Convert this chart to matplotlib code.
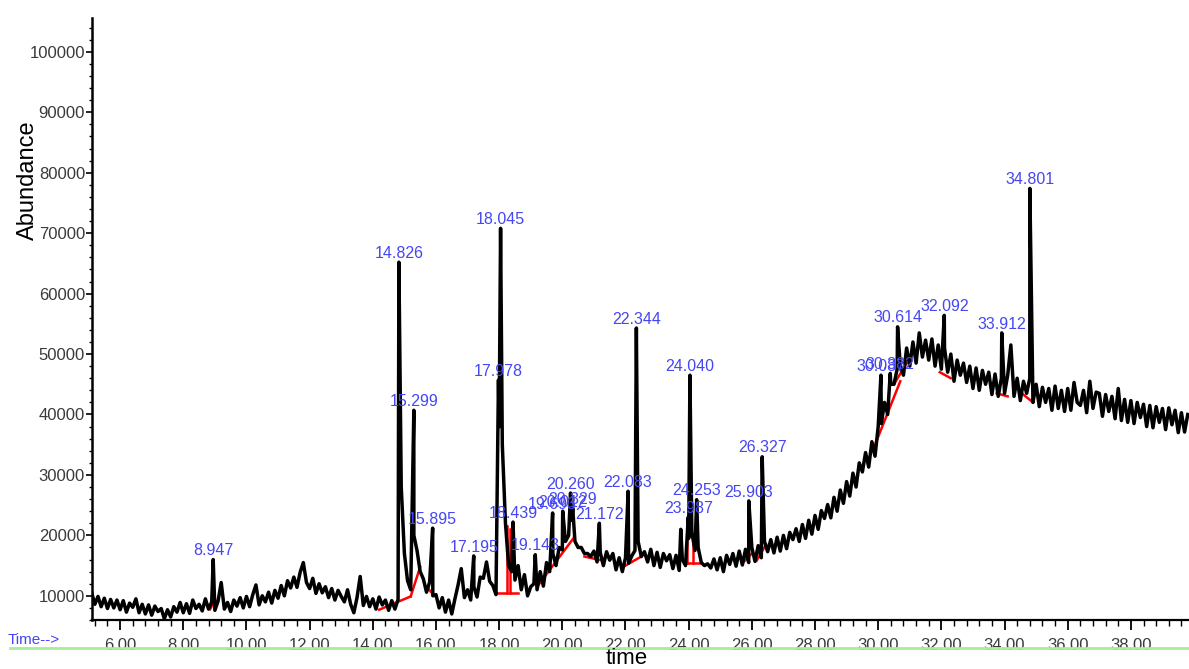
#!/usr/bin/env python3

import numpy as np
import matplotlib
matplotlib.use('Agg')
import matplotlib.pyplot as plt
from matplotlib.ticker import MultipleLocator, FormatStrFormatter
from matplotlib.lines import Line2D

plt.rcParams['font.family'] = ['Liberation Sans', 'DejaVu Sans']

# total ion chromatogram, one reading every 0.1 min from 5.1 min
trace_start = 5.1
trace_step = 0.1
trace_rows = [
    [10500, 8600, 9900, 8200, 9600, 7900, 9400, 8000, 9300],                   # 5.1-5.9
    [7700, 9200, 7300, 8800, 8100, 9500, 7200, 8600, 7000, 8500],              # 6
    [6800, 8300, 7400, 7900, 6200, 7700, 6500, 8200, 7300, 8900],              # 7
    [7200, 8700, 7100, 9300, 7900, 8600, 7500, 9500, 7800, 9000],              # 8
    [7600, 9100, 12200, 7800, 8900, 7400, 9300, 8300, 9700, 8000],             # 9
    [9900, 8200, 10200, 11800, 8500, 10000, 9000, 10600, 8800, 10900],         # 10
    [9600, 11700, 10000, 12500, 11300, 13100, 11400, 13900, 15500, 12200],     # 11
    [11200, 12900, 10400, 12000, 10500, 11500, 9700, 11200, 9300, 10900],      # 12
    [9900, 9000, 11000, 8600, 7200, 9700, 13200, 8400, 9900, 8200],            # 13
    [9500, 7800, 9800, 8500, 9300, 7600, 9200, 7800, 9400, 28000],             # 14
    [17000, 12500, 11000, 20000, 17500, 14000, 12800, 10600, 12300, 10000],    # 15
    [10200, 8000, 9700, 7300, 9300, 7000, 9500, 11800, 14500, 9700],           # 16
    [11000, 9300, 11500, 9800, 13100, 12900, 15600, 12400, 11700, 10200],      # 17
    [38000, 35000, 22000, 15000, 14000, 12600, 15000, 11000, 13500, 10000],    # 18
    [11500, 12000, 11000, 14000, 11600, 15500, 14000, 17000, 15000, 18000],    # 19
    [17600, 19000, 20000, 22500, 19000, 18000, 18000, 17000, 17000, 16500],    # 20
    [17400, 15600, 17200, 15000, 17300, 15900, 17000, 14300, 16300, 14000],    # 21
    [16300, 15400, 16600, 17500, 19000, 16500, 17300, 15600, 17700, 15000],    # 22
    [17200, 14700, 17000, 15800, 16800, 14500, 16700, 14200, 16000, 15000],    # 23
    [19500, 20500, 17500, 18000, 15500, 15000, 15300, 14600, 16100, 14300],    # 24
    [16300, 14000, 16700, 15200, 17000, 14900, 17400, 15100, 17700, 15500],    # 25
    [18000, 15700, 18300, 16300, 19000, 17300, 19300, 17100, 19700, 17400],    # 26
    [20000, 17800, 20500, 19300, 21100, 19000, 21800, 19500, 22500, 20200],    # 27
    [23300, 21000, 24100, 22800, 25100, 22900, 26300, 24000, 27500, 25300],    # 28
    [28900, 26500, 30300, 28000, 32000, 30500, 33700, 31300, 35500, 33100],    # 29
    [38000, 38500, 42000, 40000, 45000, 45000, 47500, 48000, 46500, 51000],    # 30
    [48000, 52000, 48500, 53500, 49500, 52300, 49000, 52500, 48000, 51500],    # 31
    [47500, 51000, 47000, 50000, 45500, 49000, 46500, 48500, 45300, 48000],    # 32
    [44300, 47700, 44000, 47300, 45000, 47000, 43300, 46700, 43000, 46000],    # 33
    [43500, 46500, 51500, 43000, 46000, 42300, 45500, 43500, 46000, 42000],    # 34
    [45000, 41300, 44500, 42000, 44300, 40700, 44700, 41000, 44000, 40500],    # 35
    [44300, 40700, 45300, 42000, 41500, 44000, 40300, 45500, 41000, 43700],    # 36
    [43500, 39700, 43300, 40500, 43000, 39300, 44300, 39000, 42500, 38700],    # 37
    [42300, 38500, 42000, 39500, 41700, 38000, 41500, 37800, 41300, 38700],    # 38
    [41000, 37500, 41100, 38300, 40700, 37000, 40300, 37100, 40000],           # 39.0-39.8
]

# integrated peaks: retention time and apex abundance
peak_labels = ['8.947', '14.826', '15.299', '15.895', '17.195', '17.978', '18.045',
               '18.439', '19.143', '19.693', '20.012', '20.260', '20.329', '21.172',
               '22.083', '22.344', '23.987', '24.040', '24.253', '25.903', '26.327',
               '30.087', '30.382', '30.614', '32.092', '33.912', '34.801']
peak_heights = [16000, 65200, 40700, 21200, 16600, 45700, 70800,
                22200, 16800, 23700, 24000, 27000, 24500, 22000,
                27300, 54300, 23000, 46500, 25900, 25700, 33000,
                46500, 46800, 54500, 56400, 53500, 77400]

# small spikes without a label
spike_times = [23.75]
spike_heights = [21000]

# integration baselines drawn in red: start time, start value, end time, end value
base_t0 = [8.85, 14.2, 15.2, 15.7, 17.93, 18.25, 18.35, 18.35, 19.2, 20.7, 22.0,
           23.95, 23.95, 24.15, 25.7, 26.15, 29.9, 30.5, 31.95, 33.75, 34.55]
base_v0 = [7800, 7700, 9900, 11500, 10400, 10400, 21000, 10400, 11500, 16500, 15000,
           15500, 15500, 15500, 15400, 15800, 35000, 45000, 47000, 43500, 43500]
base_t1 = [9.0, 15.2, 15.5, 15.95, 18.25, 18.25, 18.35, 18.6, 20.35, 21.3, 22.5,
           23.95, 24.35, 24.15, 26.0, 26.45, 30.7, 30.9, 32.3, 34.1, 34.9]
base_v1 = [9200, 9900, 14800, 10000, 10400, 21500, 10400, 10400, 19500, 15800, 16500,
           19500, 15500, 19000, 17000, 18500, 45500, 48500, 46000, 43000, 42000]


trace_vals = [v for row in trace_rows for v in row]
trace_times = np.round(trace_start + trace_step * np.arange(len(trace_vals)), 2)
peak_times = [float(s) for s in peak_labels]

all_t = np.concatenate([trace_times, peak_times, spike_times])
all_v = np.concatenate([trace_vals, peak_heights, spike_heights])
order = np.argsort(all_t, kind='stable')

fig = plt.figure(figsize=(11.89, 6.69), dpi=100)
ax = fig.add_axes([92 / 1189, 1 - 620 / 669, 1 - 92 / 1189, 602 / 669])

for t0, v0, t1, v1 in zip(base_t0, base_v0, base_t1, base_v1):
    ax.plot([t0, t1], [v0, v1], color='red', lw=1.8, zorder=1)
ax.plot(all_t[order], all_v[order], color='black', lw=2.5, zorder=2)

for lab, t, h in zip(peak_labels, peak_times, peak_heights):
    ax.annotate(lab, (t, h), xytext=(0, 1), textcoords='offset points',
                ha='center', va='bottom', color='#4646f2', fontsize=11.5, zorder=4)

ax.set_xlim(5.11, 39.84)
ax.set_ylim(6000, 105600)
ax.spines['top'].set_visible(False)
ax.spines['right'].set_visible(False)
ax.spines['left'].set_linewidth(1.8)
ax.spines['bottom'].set_linewidth(1.6)

ax.xaxis.set_major_locator(MultipleLocator(2))
ax.xaxis.set_minor_locator(MultipleLocator(0.4))
ax.xaxis.set_major_formatter(FormatStrFormatter('%.2f'))
ax.yaxis.set_major_locator(MultipleLocator(10000))
ax.yaxis.set_minor_locator(MultipleLocator(2000))
ax.yaxis.set_major_formatter(FormatStrFormatter('%d'))
ax.tick_params(axis='x', which='major', length=7, width=1.3, pad=6,
               labelsize=12, labelcolor='#3a3a3a')
ax.tick_params(axis='x', which='minor', length=4, width=1.0)
ax.tick_params(axis='y', which='major', length=4, width=1.2, pad=1,
               labelsize=12, labelcolor='#3a3a3a')
ax.tick_params(axis='y', which='minor', length=2.5, width=1.0)
ax.set_yticks([t for t in range(10000, 100001, 10000)])

fig.text(28 / 1189, 1 - 180 / 669, 'Abundance', rotation=90, ha='center', va='center',
         fontsize=17)
fig.text(627 / 1189, 1 - 658 / 669, 'time', ha='center', va='center', fontsize=16)
fig.text(8 / 1189, 1 - 640 / 669, 'Time-->', ha='left', va='center', color='#4646f2',
         fontsize=11)
fig.add_artist(Line2D([10 / 1189, 1], [1 - 648 / 669, 1 - 648 / 669],
                      color='#a6ee9a', lw=2, transform=fig.transFigure))

fig.savefig('out.png', dpi=100)
